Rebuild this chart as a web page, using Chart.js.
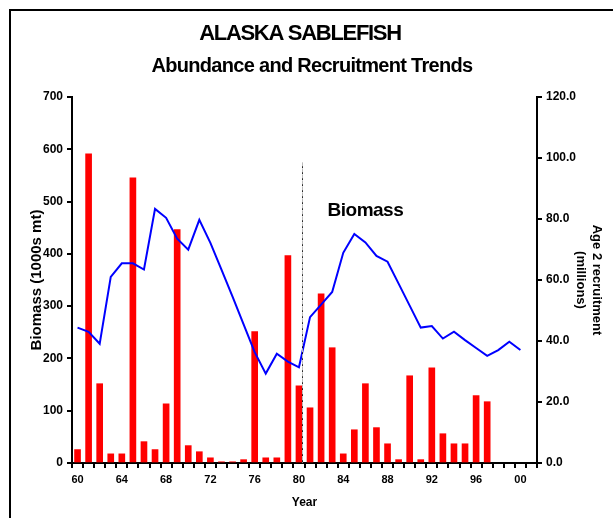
<!DOCTYPE html>
<html>
<head>
<meta charset="utf-8">
<script src="https://cdn.jsdelivr.net/npm/chart.js@4.4.1/dist/chart.umd.min.js"></script>
<style>
	html, body { margin: 0; padding: 0; background: #fff; }
	#wrap { width: 613px; height: 518px; }
</style>
</head>
<body>
<div id="wrap"><canvas id="chart" width="613" height="518"></canvas></div>
<script>
// years on the axis (2001 is an empty slot the original leaves at the right end)
const years = ['1960', '1961', '1962', '1963', '1964', '1965', '1966', '1967', '1968', '1969',
	'1970', '1971', '1972', '1973', '1974', '1975', '1976', '1977', '1978', '1979',
	'1980', '1981', '1982', '1983', '1984', '1985', '1986', '1987', '1988', '1989',
	'1990', '1991', '1992', '1993', '1994', '1995', '1996', '1997', '1998', '1999',
	'2000', '2001']

// age 2 recruitment, millions (1960-1997)
const recruitment = [4.4, 101.4, 26.0, 3.0, 3.0, 93.5, 7.0, 4.4, 19.4, 76.5,
	5.7, 3.7, 1.7, 0.4, 0.4, 1.1, 43.1, 1.7, 1.7, 68.0,
	25.3, 18.1, 55.5, 37.8, 3.0, 10.9, 26.0, 11.6, 6.3, 1.1,
	28.6, 1.1, 31.2, 9.6, 6.3, 6.3, 22.1, 20.1]

// biomass, 1000s mt (1960-2000)
const biomass = [259, 251, 228, 356, 382, 382, 370, 486, 469, 429,
	408, 465, 421, 370, 318, 265, 212, 171, 209, 194,
	183, 279, 303, 327, 402, 438, 422, 396, 385, 343,
	301, 259, 262, 238, 251, 235, 220, 205, 216, 232,
	216]

const biomassTicks = [0, 100, 200, 300, 400, 500, 600, 700]
const recruitTicks = [0, 20, 40, 60, 80, 100, 120]

const titleText = 'ALASKA SABLEFISH'
const subtitleText = 'Abundance and Recruitment Trends'
const seriesLabel = { text: 'Biomass', year: '1986', value: 482 }
const marker = { year: '1980', top: 575 }

const FONT = "'Liberation Sans', Arial, Helvetica, sans-serif"
Chart.defaults.font.family = FONT
Chart.defaults.font.weight = 'bold'
Chart.defaults.color = '#000'

const decor = {
	id: 'decor',
	afterDraw(chart) {
		const { ctx, scales: { x, y } } = chart
		ctx.save()
		// frame
		ctx.strokeStyle = '#000'
		ctx.lineWidth = 2
		ctx.beginPath()
		ctx.moveTo(10, 518)
		ctx.lineTo(10, 10)
		ctx.lineTo(613, 10)
		ctx.stroke()

		// titles
		ctx.fillStyle = '#000'
		ctx.textAlign = 'center'
		ctx.textBaseline = 'middle'
		ctx.font = `bold 22px ${FONT}`
		ctx.letterSpacing = '-1.3px'
		ctx.fillText(titleText, 300, 34)
		ctx.font = `bold 20px ${FONT}`
		ctx.letterSpacing = '-0.7px'
		ctx.fillText(subtitleText, 312, 66)

		// series label
		ctx.font = `bold 19px ${FONT}`
		ctx.letterSpacing = '-0.5px'
		ctx.fillText(seriesLabel.text, x.getPixelForValue(years.indexOf(seriesLabel.year)), y.getPixelForValue(seriesLabel.value))
		ctx.letterSpacing = '0px'

		// vertical marker line
		const mx = Math.round(x.getPixelForValue(years.indexOf(marker.year)) + 3) + 0.5
		const top = y.getPixelForValue(marker.top)
		ctx.lineWidth = 1
		ctx.strokeStyle = '#bbb'
		ctx.setLineDash([4, 2])
		ctx.beginPath()
		ctx.moveTo(mx, top)
		ctx.lineTo(mx, y.bottom)
		ctx.stroke()
		ctx.strokeStyle = '#000'
		ctx.setLineDash([1.5, 4.5])
		ctx.beginPath()
		ctx.moveTo(mx, top + 4)
		ctx.lineTo(mx, y.bottom)
		ctx.stroke()
		ctx.restore()
	}
}

const ctx = document.getElementById('chart').getContext('2d')
new Chart(ctx, {
	type: 'bar',
	data: {
		labels: years,
		datasets: [
			{
				type: 'line',
				label: 'Biomass',
				data: biomass,
				yAxisID: 'y',
				borderColor: '#0000ff',
				borderWidth: 2,
				pointRadius: 0,
				tension: 0,
				fill: false,
				order: 0,
			},
			{
				type: 'bar',
				label: 'Age 2 recruitment',
				data: recruitment,
				yAxisID: 'y2',
				backgroundColor: '#ff0000',
				barThickness: 6,
				order: 1,
			},
		],
	},
	options: {
		responsive: false,
		animation: false,
		devicePixelRatio: 1,
		layout: { padding: { top: 97, left: 0, right: 0, bottom: 0 } },
		plugins: {
			legend: { display: false },
			tooltip: { enabled: false },
		},
		scales: {
			x: {
				offset: true,
				afterFit: (s) => { s.height = 55 },
				grid: {
					offset: true,
					drawOnChartArea: false,
					drawTicks: true,
					tickLength: 5,
					color: '#000',
					lineWidth: 2,
				},
				border: { display: true, color: '#000', width: 2 },
				ticks: {
					autoSkip: false,
					maxRotation: 0,
					padding: 5,
					font: { size: 11, weight: 'bold' },
					callback: (v, i) => (Number(years[i]) % 4 === 0 && years[i] !== '2001' ? years[i].slice(2) : ''),
				},
				title: {
					display: true,
					text: 'Year',
					font: { size: 12, weight: 'bold' },
					padding: { top: 0, bottom: 8 },
				},
			},
			y: {
				position: 'left',
				min: 0,
				max: 700,
				afterFit: (s) => { s.width = 72 },
				afterBuildTicks: (s) => { s.ticks = biomassTicks.map((v) => ({ value: v })) },
				grid: {
					drawOnChartArea: false,
					tickLength: 5,
					color: '#000',
					lineWidth: 2,
				},
				border: { display: true, color: '#000', width: 2 },
				ticks: {
					padding: 4,
					font: { size: 12, weight: 'bold' },
				},
				title: {
					display: true,
					text: 'Biomass (1000s mt)',
					font: { size: 15, weight: 'bold' },
					padding: { top: 28, bottom: 0 },
				},
			},
			y2: {
				position: 'right',
				min: 0,
				max: 120,
				afterFit: (s) => { s.width = 76 },
				afterBuildTicks: (s) => { s.ticks = recruitTicks.map((v) => ({ value: v })) },
				grid: {
					drawOnChartArea: false,
					tickLength: 5,
					color: '#000',
					lineWidth: 2,
				},
				border: { display: true, color: '#000', width: 2 },
				ticks: {
					padding: 4,
					font: { size: 12, weight: 'bold' },
					callback: (v) => Number(v).toFixed(1),
				},
				title: {
					display: true,
					text: ['Age 2 recruitment', '(millions)'],
					font: { size: 13, weight: 'bold', lineHeight: 1.23 },
					padding: { top: 8, bottom: 0 },
				},
			},
		},
	},
	plugins: [decor],
})
</script>
</body>
</html>
